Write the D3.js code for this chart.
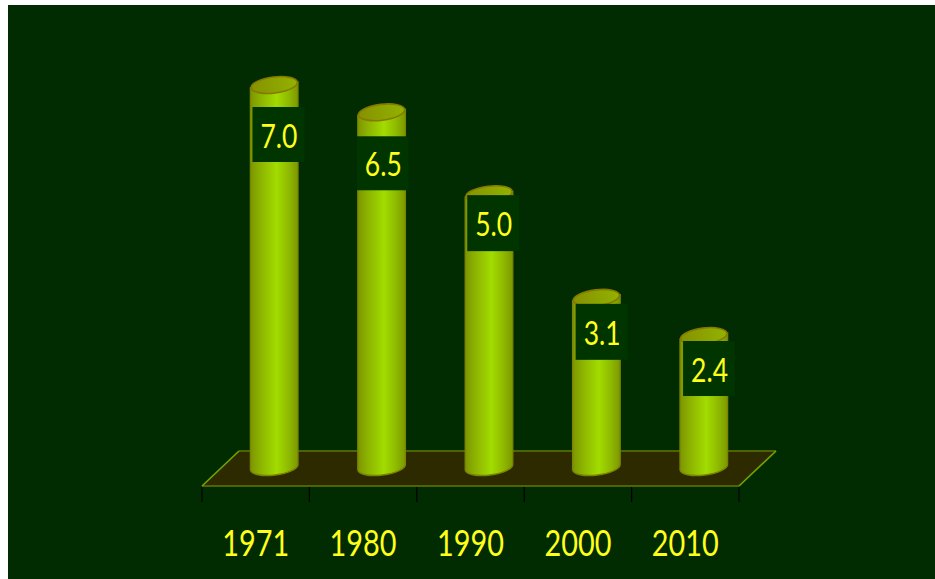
<!DOCTYPE html>
<html><head><meta charset="utf-8">
<script src="https://cdn.jsdelivr.net/npm/d3@7"></script>
<style>html,body{margin:0;padding:0;background:#fff;overflow:hidden}svg{display:block}</style>
</head><body><svg id="c" width="935" height="579"></svg>
<script>
const categories = ["1971","1980","1990","2000","2010"];
const values = [7.0,6.5,5.0,3.1,2.4];
const valueLabels = ["7.0","6.5","5.0","3.1","2.4"];

const W=935,H=579;
const floorL=202,floorR=739,floorFront=486,floorBack=451,depthX=37;
const barW=47.5,ry=8,tilt=-7;
// manually placed data-label boxes, offset from each bar's top
const labelDx=[4,1,4,5,5], labelDy=[22,24,1,6,5], boxH=[55,54,56,56,55];

const svg=d3.select("#c");
const defs=svg.append("defs");
const g=defs.append("linearGradient").attr("id","cyl").attr("x1",0).attr("x2",1).attr("y1",0).attr("y2",0);
[[0,"#7c9600"],[0.2,"#8cb200"],[0.55,"#a2dc00"],[0.8,"#8fba00"],[1,"#7c9800"]].forEach(([o,c])=>g.append("stop").attr("offset",o).attr("stop-color",c));
const g2=defs.append("linearGradient").attr("id","cap").attr("x1",0).attr("x2",1).attr("y1",0).attr("y2",0);
[[0,"#869200"],[1,"#92b200"]].forEach(([o,c])=>g2.append("stop").attr("offset",o).attr("stop-color",c));
defs.append("filter").attr("id","soft").append("feGaussianBlur").attr("stdDeviation",0.45);

svg.append("rect").attr("x",8).attr("y",5).attr("width",W-8).attr("height",H-5).attr("fill","#012c01");

const x=d3.scaleBand().domain(categories).range([floorL,floorR]).paddingInner(0).paddingOuter(0);
const y=d3.scaleLinear().domain([0,7]).range([467,85]);
const root=svg.append("g").attr("filter","url(#soft)");

root.append("path")
 .attr("d",`M${floorL},${floorFront}L${floorR},${floorFront}L${floorR+depthX},${floorBack}L${floorL+depthX},${floorBack}Z`)
 .attr("fill","#2f2a05");
root.append("path").attr("d",`M${floorL+depthX},${floorBack}H${floorR+depthX}`).attr("stroke","#5f7800").attr("stroke-width",1.6).attr("fill","none");
root.append("path").attr("d",`M${floorL},${floorFront}H${floorR}`).attr("stroke","#5f7800").attr("stroke-width",1.6).attr("fill","none");
root.append("path").attr("d",`M${floorL},${floorFront}L${floorL+depthX},${floorBack}M${floorR},${floorFront}L${floorR+depthX},${floorBack}`).attr("stroke","#74a400").attr("stroke-width",1.6).attr("fill","none");

// ticks at band edges
const edges=categories.map(c=>x(c)).concat([floorR]);
root.selectAll(".tick-mark").data(edges).join("line").attr("class","tick-mark")
 .attr("x1",d=>d).attr("x2",d=>d).attr("y1",floorFront+1).attr("y2",floorFront+16)
 .attr("stroke","#000").attr("stroke-width",1.2);

const cx=c=>x(c)+x.bandwidth()/2+18.5;
const tiltDy=(barW/2)*Math.tan(-tilt*Math.PI/180);

const bars=root.selectAll(".bar").data(categories.map((c,i)=>({c,v:values[i],i}))).join("g").attr("class","bar");
bars.append("path").attr("d",d=>{
  const l=cx(d.c)-barW/2,r=cx(d.c)+barW/2,t=y(d.v),b=y(0);
  return `M${l},${t+tiltDy}L${r},${t-tiltDy}L${r},${b-tiltDy}A${barW/2},${ry} ${tilt} 0 1 ${l},${b+tiltDy}Z`;
}).attr("fill","url(#cyl)").attr("stroke","#7a8600").attr("stroke-width",1.4);
bars.append("ellipse").attr("cx",d=>cx(d.c)).attr("cy",d=>y(d.v))
 .attr("rx",barW/2-0.5).attr("ry",ry)
 .attr("transform",d=>`rotate(${tilt} ${cx(d.c)} ${y(d.v)})`)
 .attr("fill","url(#cap)").attr("stroke","#857a00").attr("stroke-width",1.6);

const labels=root.selectAll(".lab").data(categories.map((c,i)=>({c,i}))).join("g").attr("class","lab");
labels.append("rect")
 .attr("x",d=>cx(d.c)-barW/2+2+labelDx[d.i]-4)
 .attr("y",d=>y(values[d.i])+labelDy[d.i])
 .attr("width",52).attr("height",d=>boxH[d.i]).attr("fill","#023402");

const axisG=svg.append("g").attr("transform",`translate(0,${floorFront})`)
 .call(d3.axisBottom(x).tickSize(0).tickPadding(70));
axisG.select(".domain").remove();
axisG.selectAll("text").attr("fill","#ffff1a").attr("font-family","Lato").attr("font-size",37).attr("dy",0)
 .attr("textLength",67).attr("lengthAdjust","spacingAndGlyphs");

svg.selectAll(".vlab").data(categories.map((c,i)=>({c,i}))).join("text").attr("class","vlab")
 .attr("x",d=>cx(d.c)-barW/2+2+labelDx[d.i]-4+26.5)
 .attr("y",d=>y(values[d.i])+labelDy[d.i]+boxH[d.i]/2+13)
 .attr("text-anchor","middle").attr("font-family","Lato").attr("font-size",33)
 .attr("textLength",37).attr("lengthAdjust","spacingAndGlyphs")
 .attr("fill","#ffff1a").text(d=>valueLabels[d.i]);
</script></body></html>
